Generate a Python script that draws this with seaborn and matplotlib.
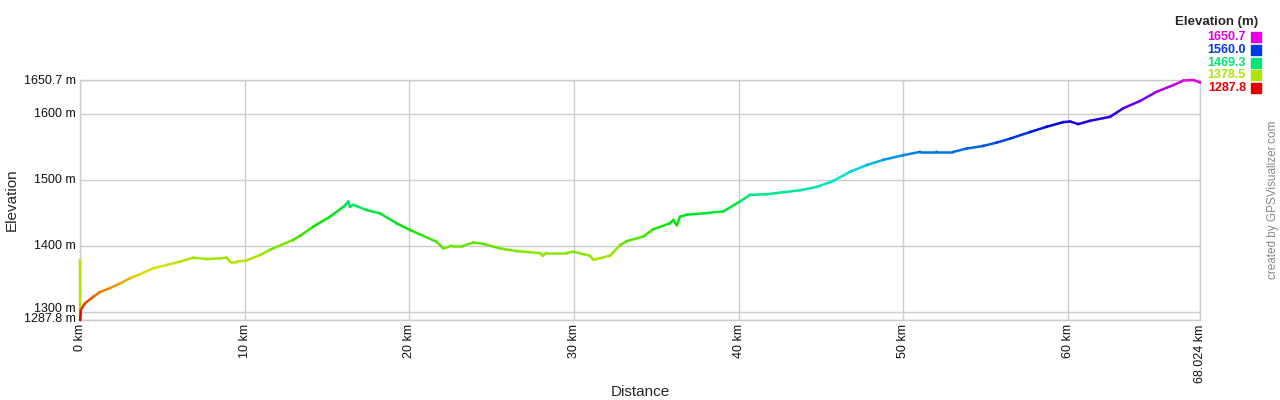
import colorsys
import numpy as np
import pandas as pd
import matplotlib
matplotlib.use("Agg")
import matplotlib.pyplot as plt
import matplotlib.transforms as mtransforms
from matplotlib.collections import LineCollection
from matplotlib.colors import ListedColormap
from matplotlib.patches import Rectangle
import seaborn as sns

# distance (km) and elevation (m)
distance_km = [0.00, 0.01, 0.05, 0.30, 0.81, 1.21, 1.82, 2.43, 3.04, 3.64,
               4.45, 5.27, 6.07, 6.88, 7.70, 8.50, 8.91, 9.11, 9.52, 10.12,
               10.93, 11.54, 12.95, 13.36, 14.17, 15.18, 16.05, 16.30, 16.40, 16.60,
               17.41, 18.22, 19.23, 20.04, 20.85, 21.66, 22.07, 22.57, 23.28, 23.89,
               24.49, 25.51, 26.52, 27.94, 28.10, 28.30, 29.56, 29.96, 30.97, 31.18,
               31.38, 32.19, 32.80, 33.20, 34.21, 34.82, 35.83, 36.04, 36.24, 36.44,
               36.85, 37.86, 39.07, 40.08, 40.69, 41.70, 42.72, 43.73, 44.74, 45.75,
               46.77, 47.78, 48.79, 50.00, 51.02, 52.03, 53.04, 53.85, 54.86, 55.67,
               56.48, 57.70, 58.71, 59.72, 60.13, 60.63, 61.34, 62.56, 63.37, 64.38,
               65.40, 66.41, 67.02, 67.63, 68.024]
elevation_m = [1378, 1287.8, 1303, 1313, 1323, 1330, 1336, 1343, 1351, 1357,
               1366, 1371, 1376, 1382, 1380, 1381, 1382, 1376, 1376, 1378,
               1386, 1394, 1409, 1415, 1429, 1444, 1460, 1467, 1459, 1462,
               1454, 1449, 1434, 1424, 1415, 1406, 1396, 1400, 1400, 1405,
               1403, 1396, 1392, 1389, 1385, 1389, 1389, 1391, 1385, 1379,
               1380, 1385, 1401, 1407, 1414, 1425, 1434, 1439, 1431, 1444,
               1447, 1449, 1452, 1467, 1477, 1478, 1481, 1484, 1489, 1498,
               1512, 1522, 1530, 1537, 1542, 1542, 1542, 1547, 1551, 1556,
               1562, 1572, 1580, 1587, 1588, 1584, 1589, 1595, 1608, 1619,
               1633, 1643, 1650, 1650.7, 1647]

legend_values = [1650.7, 1560.0, 1469.3, 1378.5, 1287.8]
y_ticks = [1287.8, 1300, 1400, 1500, 1600, 1650.7]
x_ticks = [0, 10, 20, 30, 40, 50, 60, 68.024]

ELEV_MIN, ELEV_MAX = 1287.8, 1650.7

df = pd.DataFrame({"km": distance_km, "elev": elevation_m})


def elev_color(v):
    # red -> yellow -> green -> cyan -> blue -> magenta
    h = (v - ELEV_MIN) / (ELEV_MAX - ELEV_MIN) * 300 / 360
    return colorsys.hsv_to_rgb(h, 1.0, 0.9)


cmap = ListedColormap([elev_color(ELEV_MIN + f * (ELEV_MAX - ELEV_MIN))
                       for f in np.linspace(0, 1, 256)])

sns.set_style("whitegrid")
plt.rcParams["font.family"] = ["Liberation Sans", "DejaVu Sans"]

fig = plt.figure(figsize=(12.8, 4), dpi=100)
ax = fig.add_axes([0.0625, 0.2, 0.875, 0.6])

pts = df[["km", "elev"]].to_numpy()
segs = np.stack([pts[:-1], pts[1:]], axis=1)
lc = LineCollection(segs, colors=[elev_color(v) for v in df["elev"][:-1]],
                    linewidths=1.8, clip_on=False, zorder=3)
ax.add_collection(lc)
sns.scatterplot(data=df, x="km", y="elev", hue="elev", palette=cmap,
                hue_norm=(ELEV_MIN, ELEV_MAX), s=4, linewidth=0,
                legend=False, ax=ax, zorder=4, clip_on=False)

ax.set_xlim(0, 68.024)
ax.set_ylim(ELEV_MIN, ELEV_MAX)
ax.set_yticks(y_ticks)
ax.set_yticklabels([f"{v:g} m" for v in y_ticks], fontsize=9)
ax.set_xticks(x_ticks)
ax.set_xticklabels([f"{v:g} km" for v in x_ticks], fontsize=9, rotation=90)
ax.tick_params(length=0, pad=3, colors="#111111")
# labels sit a touch above their grid lines, the bottom two squeezed together
shifts = [2, 4.5, 1, 1, 1, 1]
for lab, dy in zip(ax.get_yticklabels(), shifts):
    lab.set_transform(lab.get_transform() +
                      mtransforms.ScaledTranslation(0, dy / 100, fig.dpi_scale_trans))
ax.grid(True, color="#cccccc", linewidth=1)
for s in ax.spines.values():
    s.set_color("#cccccc")
    s.set_linewidth(1)
ax.set_xlabel("")
ax.set_ylabel("")
fig.text(0.5, 1 - 392 / 400, "Distance", fontsize=11, ha="center", va="center")
fig.text(12 / 1280, 0.5, "Elevation", fontsize=11, rotation=90,
         ha="center", va="center")

# legend block, top right
fig.text(1258 / 1280, 1 - 22 / 400, "Elevation (m)", fontsize=9.5,
         fontweight="bold", ha="right", va="center")
for i, v in enumerate(legend_values):
    yc = 37 + i * 12.8
    c = elev_color(v)
    fig.text(1246 / 1280, 1 - yc / 400, f"{v:.1f}", fontsize=9,
             fontweight="bold", color=c, ha="right", va="center")
    fig.patches.append(Rectangle((1251 / 1280, 1 - (yc + 5) / 400), 10 / 1280, 10 / 400,
                                 transform=fig.transFigure, color=c))

fig.text(1273 / 1280, 0.5, "created by GPSVisualizer.com", fontsize=8.5,
         color="#888888", rotation=90, ha="center", va="center")

fig.savefig("out.png", dpi=100)
